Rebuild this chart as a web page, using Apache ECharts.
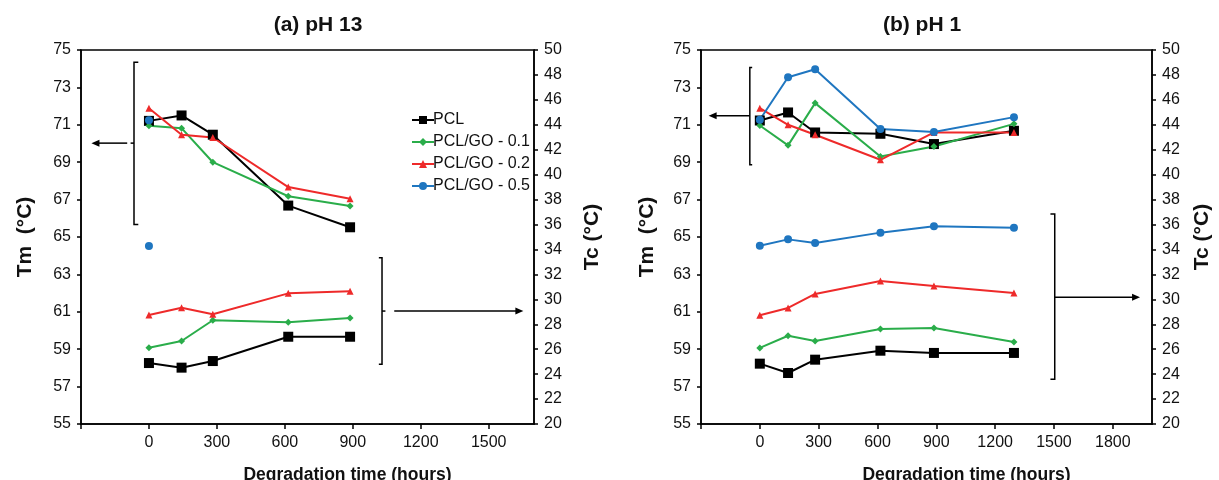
<!DOCTYPE html>
<html>
<head>
<meta charset="utf-8" />
<title>Tm / Tc vs degradation time</title>
<script src="https://cdn.jsdelivr.net/npm/echarts@6/dist/echarts.min.js"></script>
<style>
  html, body { margin: 0; padding: 0; background: #fff; }
  #chart { width: 1219px; height: 480px; }
</style>
</head>
<body>
<div id="chart"></div>
<script>
"use strict"

// degradation time (hours)
const timeA = [0, 144, 282, 615, 888]
const timeB = [0, 144, 282, 615, 888, 1296]
const time0 = [0]

// (a) pH 13 -- melting (Tm) and crystallisation (Tc) temperatures
const tmA_PCL = [71.21, 71.5, 70.47, 66.68, 65.52]
const tmA_GO1 = [70.95, 70.82, 69.0, 67.18, 66.66]
const tmA_GO2 = [71.89, 70.47, 70.32, 67.67, 67.04]
const tmA_GO5 = [71.25]
const tcA_PCL = [24.89, 24.52, 25.05, 27.0, 27.0]
const tcA_GO1 = [26.12, 26.66, 28.32, 28.16, 28.5]
const tcA_GO2 = [28.74, 29.33, 28.8, 30.48, 30.64]
const tcA_GO5 = [34.28]

// (b) pH 1
const tmB_PCL = [71.23, 71.66, 70.59, 70.52, 69.97, 70.68]
const tmB_GO1 = [70.96, 69.9, 72.16, 69.31, 69.84, 71.05]
const tmB_GO2 = [71.89, 71.0, 70.47, 69.13, 70.59, 70.59]
const tmB_GO5 = [71.27, 73.54, 73.97, 70.77, 70.61, 71.41]
const tcB_PCL = [24.84, 24.09, 25.16, 25.88, 25.7, 25.7]
const tcB_GO1 = [26.1, 27.08, 26.66, 27.62, 27.7, 26.58]
const tcB_GO2 = [28.72, 29.31, 30.43, 31.47, 31.07, 30.51]
const tcB_GO5 = [34.3, 34.81, 34.52, 35.35, 35.86, 35.75]

// tick labels
const xTicksA = [0, 300, 600, 900, 1200, 1500]
const xTicksB = [0, 300, 600, 900, 1200, 1500, 1800]
const tmTicks = [55, 57, 59, 61, 63, 65, 67, 69, 71, 73, 75]

const FONT = "'Liberation Sans', Arial, sans-serif"

const styles = {
  "PCL": { color: "#000000", symbol: "rect", size: 10 },
  "PCL/GO - 0.1": { color: "#2aad4a", symbol: "diamond", size: 7 },
  "PCL/GO - 0.2": { color: "#ee2a2a", symbol: "triangle", size: 7 },
  "PCL/GO - 0.5": { color: "#1f76c0", symbol: "circle", size: 8 }
}

function line(name, times, vals, xi, yi) {
  const s = styles[name]
  return {
    name: name,
    type: "line",
    xAxisIndex: xi,
    yAxisIndex: yi,
    symbol: s.symbol,
    symbolSize: s.size,
    showAllSymbol: true,
    animation: false,
    itemStyle: { color: s.color },
    lineStyle: { color: s.color, width: 2 },
    data: times.map((t, i) => [t, vals[i]])
  }
}

function xAxis(grid, max, labels) {
  return {
    type: "value",
    gridIndex: grid,
    min: -300,
    max: max,
    interval: 300,
    axisLine: { onZero: false, lineStyle: { color: "#000", width: 1.5 } },
    axisTick: { inside: false, length: 5, lineStyle: { color: "#000", width: 1.5 }, customValues: [-300].concat(labels) },
    axisLabel: { customValues: labels, color: "#111", fontSize: 16, fontFamily: FONT, margin: 11, formatter: (v) => String(v) },
    splitLine: { show: false },
    name: "Degradation time (hours)",
    nameLocation: "middle",
    nameGap: 42,
    nameTextStyle: { color: "#111", fontSize: 17.5, fontWeight: "bold", fontFamily: FONT, padding: [0, 0, 0, 80] }
  }
}

function yAxis(grid, pos, min, max, name, gap, ticks) {
  const ax = {
    type: "value",
    gridIndex: grid,
    position: pos,
    min: min,
    max: max,
    interval: 2,
    axisLine: { show: true, onZero: false, lineStyle: { color: "#000", width: 1.5 } },
    axisTick: { show: true, inside: false, length: 4, lineStyle: { color: "#000", width: 1.5 } },
    axisLabel: { color: "#111", fontSize: 16, fontFamily: FONT, margin: 10 },
    splitLine: { show: false },
    name: name,
    nameLocation: "middle",
    nameGap: gap,
    nameRotate: 90,
    nameTextStyle: { color: "#111", fontSize: 21, fontWeight: "bold", fontFamily: FONT }
  }
  if (ticks) {
    ax.axisTick.customValues = ticks
    ax.axisLabel.customValues = ticks
  }
  return ax
}

const chart = echarts.init(document.getElementById("chart"), null, { renderer: "canvas" })

const option = {
  animation: false,
  backgroundColor: "#fff",
  grid: [
    { left: 81, right: 685, top: 50, bottom: 56, outerBoundsMode: "none", show: true, borderColor: "#000", borderWidth: 1.5 },
    { left: 701, right: 67, top: 50, bottom: 56, outerBoundsMode: "none", show: true, borderColor: "#000", borderWidth: 1.5 }
  ],
  legend: {
    orient: "vertical",
    left: 406,
    top: 107,
    itemGap: 6,
    itemWidth: 22,
    itemHeight: 10,
    textStyle: { color: "#111", fontSize: 16, fontFamily: FONT, padding: [0, 0, 0, -6] },
    data: ["PCL", "PCL/GO - 0.1", "PCL/GO - 0.2", "PCL/GO - 0.5"]
  },
  xAxis: [xAxis(0, 1700, xTicksA), xAxis(1, 2000, xTicksB)],
  yAxis: [
    yAxis(0, "left", 55, 75, "Tm  (°C)", 45, tmTicks),
    yAxis(0, "right", 20, 50, "Tc (°C)", 48),
    yAxis(1, "left", 55, 75, "Tm  (°C)", 43, tmTicks),
    yAxis(1, "right", 20, 50, "Tc (°C)", 40)
  ],
  series: [
    line("PCL", timeA, tmA_PCL, 0, 0),
    line("PCL/GO - 0.1", timeA, tmA_GO1, 0, 0),
    line("PCL/GO - 0.2", timeA, tmA_GO2, 0, 0),
    line("PCL", timeA, tcA_PCL, 0, 1),
    line("PCL/GO - 0.1", timeA, tcA_GO1, 0, 1),
    line("PCL/GO - 0.2", timeA, tcA_GO2, 0, 1),
    line("PCL/GO - 0.5", time0, tmA_GO5, 0, 0),
    line("PCL/GO - 0.5", time0, tcA_GO5, 0, 1),

    line("PCL", timeB, tmB_PCL, 1, 2),
    line("PCL/GO - 0.1", timeB, tmB_GO1, 1, 2),
    line("PCL/GO - 0.2", timeB, tmB_GO2, 1, 2),
    line("PCL/GO - 0.5", timeB, tmB_GO5, 1, 2),
    line("PCL", timeB, tcB_PCL, 1, 3),
    line("PCL/GO - 0.1", timeB, tcB_GO1, 1, 3),
    line("PCL/GO - 0.2", timeB, tcB_GO2, 1, 3),
    line("PCL/GO - 0.5", timeB, tcB_GO5, 1, 3)
  ]
}

chart.setOption(option)

// brackets and arrows pointing each group to its axis (in axis units)
function px(xi, x) { return chart.convertToPixel({ xAxisIndex: xi }, x) }
function py(yi, y) { return chart.convertToPixel({ yAxisIndex: yi }, y) }

const stroke = { stroke: "#000", lineWidth: 1.5, fill: null }
const graphics = []

function seg(xi, yi, pts) {
  graphics.push({
    type: "polyline",
    silent: true,
    shape: { points: pts.map((p) => [px(xi, p[0]), py(yi, p[1])]) },
    style: stroke
  })
}

function arrow(xi, yi, x1, x2, y) {
  const a = px(xi, x1), b = px(xi, x2), yy = py(yi, y)
  const dir = b > a ? 1 : -1
  graphics.push({ type: "line", silent: true, shape: { x1: a, y1: yy, x2: b - dir * 5, y2: yy }, style: stroke })
  graphics.push({
    type: "polygon",
    silent: true,
    shape: { points: [[b, yy], [b - dir * 8, yy - 3.5], [b - dir * 8, yy + 3.5]] },
    style: { fill: "#000" }
  })
}

// (a) Tm group -> left axis
seg(0, 0, [[-47, 74.34], [-66, 74.34], [-66, 65.67], [-47, 65.67]])
seg(0, 0, [[-66, 70.02], [-81, 70.02]])
arrow(0, 0, -96, -254, 70.02)
// (a) Tc group -> right axis
seg(0, 1, [[1015, 33.34], [1029, 33.34], [1029, 24.79], [1015, 24.79]])
seg(0, 1, [[1029, 29.06], [1044, 29.06]])
arrow(0, 1, 1083, 1653, 29.06)
// (b) Tm group -> left axis
seg(1, 2, [[-39, 74.06], [-51, 74.06], [-51, 68.87], [-39, 68.87]])
arrow(1, 2, -51, -261, 71.48)
// (b) Tc group -> right axis
seg(1, 3, [[1482, 36.85], [1504, 36.85], [1504, 23.59], [1482, 23.59]])
arrow(1, 3, 1504, 1939, 30.16)

// panel titles
graphics.push({
  type: "text", x: 318, y: 25,
  style: { text: "(a) pH 13", align: "center", verticalAlign: "middle", font: "bold 21px " + FONT, fill: "#111" }
})
graphics.push({
  type: "text", x: 922, y: 25,
  style: { text: "(b) pH 1", align: "center", verticalAlign: "middle", font: "bold 21px " + FONT, fill: "#111" }
})

chart.setOption({ graphic: graphics })
</script>
</body>
</html>
